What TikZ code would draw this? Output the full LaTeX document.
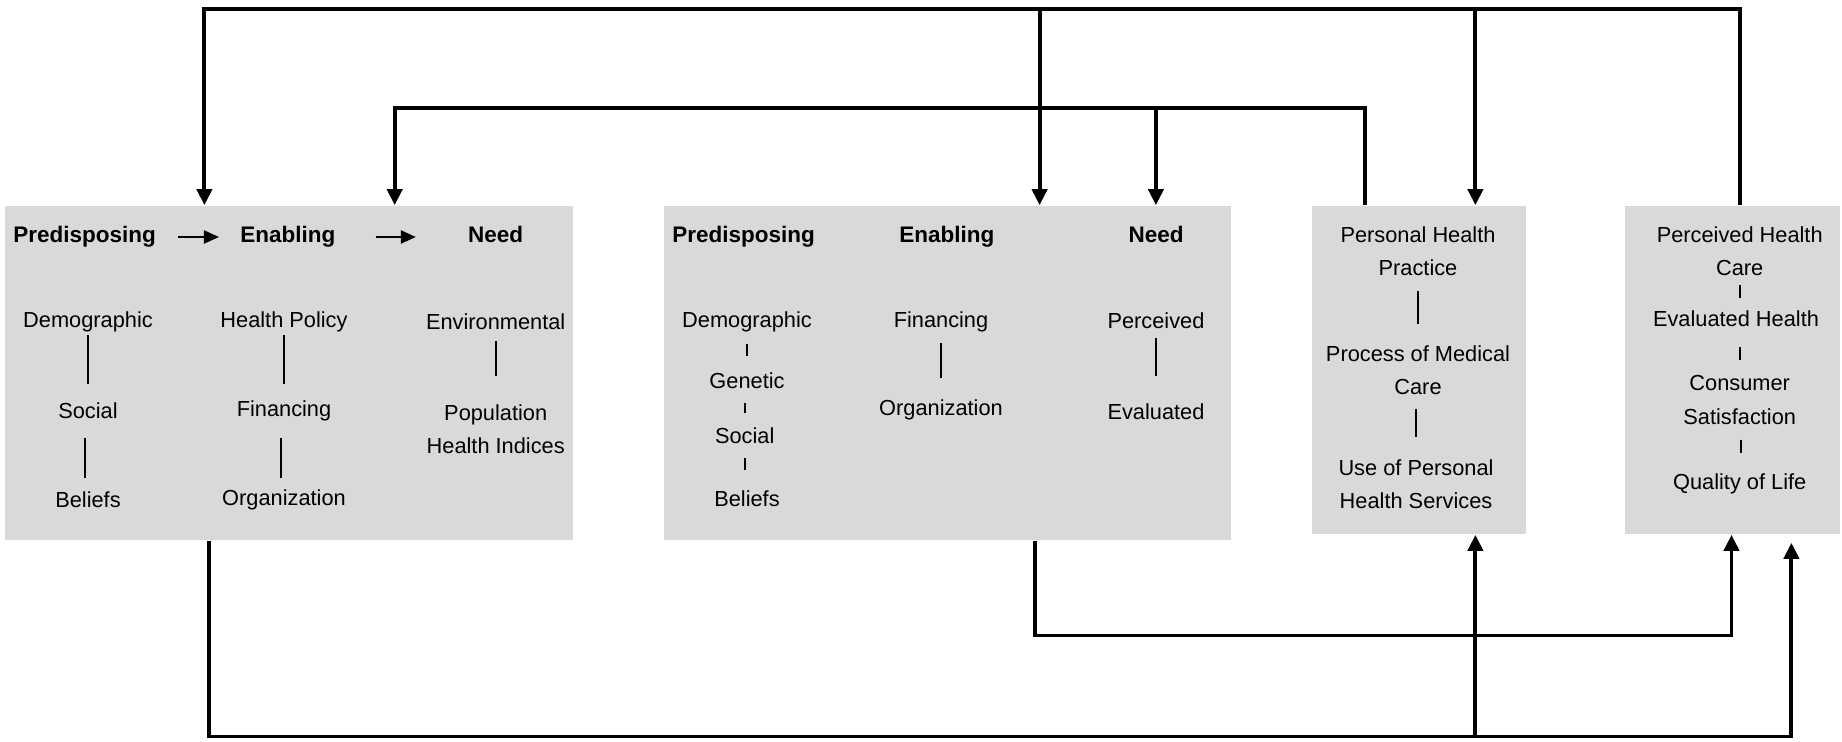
\documentclass[tikz,border=0pt]{standalone}
\usepackage{fontspec}
\setmainfont{Liberation Sans}
\usetikzlibrary{arrows.meta}
\definecolor{boxgray}{HTML}{D9D9D9}
\newcommand{\bodysize}{\fontsize{12.4}{18.8}\selectfont}
\newcommand{\headsize}{\fontsize{12.8}{18.8}\selectfont}

\begin{document}
\begin{tikzpicture}[x=0.02cm, y=-0.02cm, >={Triangle[length=0.32cm, width=0.3cm]},
    box/.style={fill=boxgray, inner sep=0},
    txt/.style={font=\bodysize, align=center, inner sep=0},
    hd/.style={font=\headsize\bfseries, inner sep=0, text height=0.33cm, text depth=0.11cm},
    conn/.style={line width=2.2pt},
    sep/.style={line width=1.1pt},
    inarr/.style={line width=1.2pt, -{Triangle[length=0.3cm, width=0.26cm]}}]
    \useasboundingbox (0,0) rectangle (1842,742);

    % ==== BOXES ====
    \node[box, minimum width=11.37cm, minimum height=6.70cm] (b1) at (288.9,373) {};
    \node[box, minimum width=11.35cm, minimum height=6.70cm] (b2) at (947.4,373) {};
    \node[box, minimum width=4.28cm, minimum height=6.58cm] (b3) at (1419,370) {};
    \node[box, minimum width=4.30cm, minimum height=6.58cm] (b4) at (1732,370) {};

    % ==== FIRST BOX ====
    \node[hd] (pre1) at (84.6,237) {Predisposing};
    \node[hd] (ena1) at (287.8,237) {Enabling};
    \node[hd] (need1) at (495.7,237) {Need};
    \draw[inarr, shorten <=0.44cm, shorten >=0.42cm] (pre1) -- (ena1);
    \draw[inarr, shorten <=0.8cm, shorten >=1.04cm] (ena1) -- (need1);

    \node[txt] (demo1) at (88,322) {Demographic};
    \node[txt] (soc1) at (88,411) {Social};
    \node[txt] (bel1) at (88,500) {Beliefs};
    \draw[sep] (demo1) ++(0,13) -- ++(0,49);
    \draw[sep] (soc1) ++(-3.4,27) -- ++(0,40);

    \node[txt] (pol1) at (284,322) {Health Policy};
    \node[txt] (fin1) at (284,411) {Financing};
    \node[txt] (org1) at (284,500) {Organization};
    \draw[sep] (pol1) ++(0,13) -- ++(0,49);
    \draw[sep] (fin1) ++(-3,27) -- ++(0,40);

    \node[txt] (env1) at (495.7,322) {Environmental};
    \node[txt] (pop1) at (495.7,429) {Population\\Health Indices};
    \draw[sep] (env1) ++(0,19) -- ++(0,35);

    % ==== SECOND BOX ====
    \node[hd] (pre2) at (743.6,237) {Predisposing};
    \node[hd] (ena2) at (946.8,237) {Enabling};
    \node[hd] (need2) at (1156,237) {Need};

    \node[txt] (demo2) at (747,322) {Demographic};
    \node[txt] (gen2) at (747,381) {Genetic};
    \node[txt] (soc2) at (744.7,436) {Social};
    \node[txt] (bel2) at (747,499) {Beliefs};
    \draw[sep] (demo2) ++(0,22) -- ++(0,12);
    \draw[sep] (gen2) ++(-2.3,22) -- ++(0,10);
    \draw[sep] (soc2) ++(0,22) -- ++(0,12);

    \node[txt] (fin2) at (941,322) {Financing};
    \node[txt] (org2) at (941,410) {Organization};
    \draw[sep] (fin2) ++(0,21) -- ++(0,35);

    \node[txt] (per2) at (1156,321) {Perceived};
    \node[txt] (eva2) at (1156,412) {Evaluated};
    \draw[sep] (per2) ++(0,17) -- ++(0,38);

    % ==== THIRD BOX ====
    \node[txt] (php3) at (1418,251) {Personal Health\\Practice};
    \node[txt] (pmc3) at (1418,370) {Process of Medical\\Care};
    \node[txt] (use3) at (1416,484) {Use of Personal\\Health Services};
    \draw[sep] (php3) ++(0,40) -- ++(0,33);
    \draw[sep] (pmc3) ++(-2,39) -- ++(0,28);

    % ==== FOURTH BOX ====
    \node[txt] (phc4) at (1739.7,251) {Perceived Health\\Care};
    \node[txt] (eh4) at (1736,319) {Evaluated Health};
    \node[txt] (cs4) at (1739.7,400) {Consumer\\Satisfaction};
    \node[txt] (ql4) at (1739.7,484) {Quality of Life};
    \draw[sep] (phc4) ++(0,34) -- ++(0,13);
    \draw[sep] (eh4) ++(3.7,28) -- ++(0,13);
    \draw[sep] (cs4) ++(1,40) -- ++(0,13);

    % ==== CONNECTORS ====
    \coordinate (tl) at (204.4,9.4);
    \coordinate (ta) at (1039.6,9.4);
    \coordinate (tb) at (1475.4,9.4);
    \coordinate (tr) at (1739.7,9.4);
    \draw[conn,->] (b4.north -| tr) -- (tr) -- (tl) -- (b1.north -| tl);
    \draw[conn,->] (ta) -- (b2.north -| ta);
    \draw[conn,->] (tb) -- (b3.north -| tb);

    \coordinate (sl) at (394.7,108);
    \coordinate (sa) at (1155.9,108);
    \coordinate (sr) at (1365,108);
    \draw[conn,->] (b3.north -| sr) -- (sr) -- (sl) -- (b1.north -| sl);
    \draw[conn,->] (sa) -- (b2.north -| sa);

    \coordinate (ul) at (1035,635.5);
    \coordinate (ur) at (1731.5,635.5);
    \draw[conn,->] (b2.south -| ul) -- (ul) -- (ur) -- (b4.south -| ur);

    \coordinate (vl) at (209,736.5);
    \coordinate (va) at (1475.4,736.5);
    \coordinate (vr) at (1791.4,736.5);
    \draw[conn,->, shorten >=0.16cm] (b1.south -| vl) -- (vl) -- (vr) -- (b4.south -| vr);
    \draw[conn,->] (va) -- (b3.south -| va);
\end{tikzpicture}
\end{document}
